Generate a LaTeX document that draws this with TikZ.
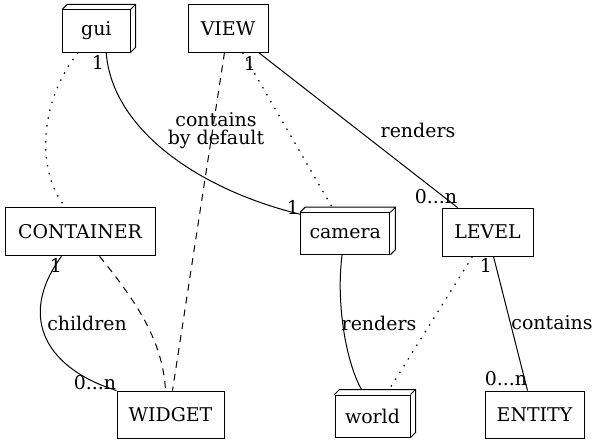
\documentclass[tikz,border=0pt]{standalone}
\usepackage{fontspec}
\setmainfont{DejaVu Serif}
\usetikzlibrary{calc}
\newcommand{\boxdepth}[1]{\draw (#1.north west) -- ++(5,5) -| ($(#1.south east)+(5,5)$) -- (#1.south east) (#1.north east) -- ++(5,5);}

\begin{document}
\begin{tikzpicture}[x=0.75pt,y=0.75pt,line width=0.75pt,
	ent/.style={draw,rectangle,inner sep=0pt,font=\fontsize{14.2}{16}\selectfont},
	lbl/.style={inner sep=0pt,font=\fontsize{14.2}{13.5}\selectfont,align=center},
	dotline/.style={line width=0.9pt,dash pattern=on 1.1pt off 4.9pt},
	dashline/.style={dash pattern=on 5.25pt off 4.5pt}]
			\useasboundingbox (0,0) rectangle (599,444);
			\node[ent,minimum width=50.5pt,minimum height=31.5pt] (gui) at (96.35,413) {gui};
			\node[ent,minimum width=60pt,minimum height=35.25pt] (view) at (228,415.5) {VIEW};
			\node[ent,minimum width=112.5pt,minimum height=36pt] (container) at (80,212.25) {CONTAINER};
			\node[ent,minimum width=67pt,minimum height=31pt] (camera) at (345.3,210.6) {camera};
			\node[ent,minimum width=68.25pt,minimum height=36pt] (level) at (487.5,212) {LEVEL};
			\node[ent,minimum width=80.25pt,minimum height=35.25pt] (widget) at (170.5,29.5) {WIDGET};
			\node[ent,minimum width=56.25pt,minimum height=31.5pt] (world) at (372.5,28) {world};
			\node[ent,minimum width=74.25pt,minimum height=35.25pt] (entity) at (534.5,29.5) {ENTITY};
			\boxdepth{gui}
			\boxdepth{camera}
			\boxdepth{world}
			\draw [dotline] ($(gui.south west)+(16,0)$) .. controls (40,344) and (35,274) .. ($(container.north west)+(61,0)$);
			\draw ($(gui.south west)+(44,0)$) .. controls (112,314) and (200,254) .. ($(camera.north west)+(0,-2)$);
			\draw [dashline] ($(view.south west)+(37,0)$) -- ($(widget.north west)+(56,0)$);
			\draw [dotline] ($(view.south west)+(55,0)$) -- ($(camera.north west)+(32,5)$);
			\draw ($(view.south east)+(-10,0)$) -- ($(level.north west)+(16,0)$);
			\draw ($(container.south west)+(57,0)$) .. controls (15,124) and (50,74) .. (widget.north west);
			\draw [dashline] ($(container.south west)+(95,0)$) .. controls (135,144) and (163,104) .. ($(widget.north west)+(49,0)$);
			\draw ($(camera.south west)+(42,0)$) .. controls (336,144) and (345,84) .. ($(world.north west)+(27,5)$);
			\draw [dotline] ($(level.south west)+(31,0)$) -- ($(world.north west)+(54,4)$);
			\draw ($(level.south west)+(52,0)$) -- ($(entity.north west)+(43,0)$);
			\node[lbl] (m1) at (98,382) {1};
			\node[lbl] (lcontains) at (216,313) {contains\\by default};
			\node[lbl] (m2) at (293,237) {1};
			\node[lbl] (m3) at (250,381) {1};
			\node[lbl] (lrenders) at (418,314) {renders};
			\node[lbl] (m4) at (436,247) {0...n};
			\node[lbl] (m5) at (56,179) {1};
			\node[lbl] (lchildren) at (87,121) {children};
			\node[lbl] (m6) at (95,61) {0...n};
			\node[lbl] (lrenders2) at (379,121) {renders};
			\node[lbl] (m7) at (486,179) {1};
			\node[lbl] (lcontains2) at (552,121) {contains};
			\node[lbl] (m8) at (506,65) {0...n};
		\end{tikzpicture}
\end{document}
